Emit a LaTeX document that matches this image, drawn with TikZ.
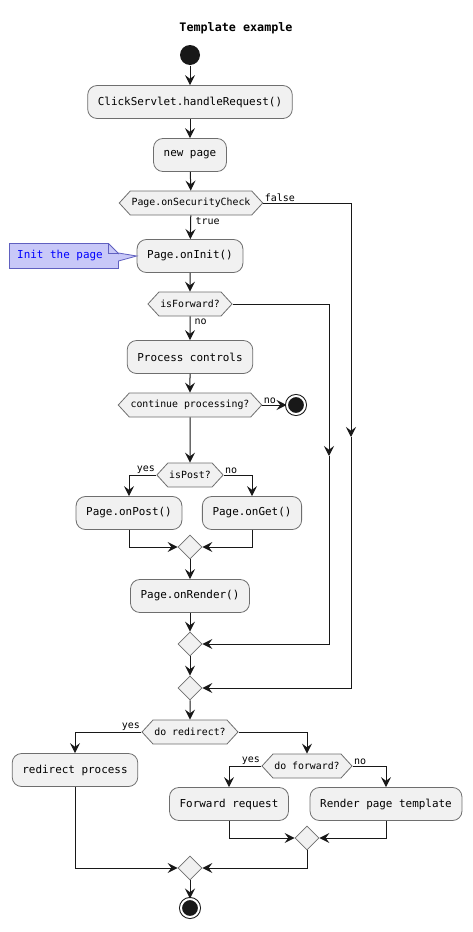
\documentclass[tikz,border=0pt]{standalone}
\usepackage{fontspec}
\usetikzlibrary{arrows.meta,shapes.geometric,shapes.symbols,calc}
\newfontfamily\umlfont{DejaVu Sans Mono}

\definecolor{umlline}{RGB}{24,24,24}
\definecolor{umlborder}{RGB}{110,110,110}
\definecolor{umlfill}{RGB}{241,241,241}
\definecolor{notefill}{RGB}{200,200,248}
\definecolor{noteborder}{RGB}{96,96,192}
\definecolor{notetext}{RGB}{0,0,255}

\tikzset{every picture/.style={line width=0.75pt}}
\tikzset{
  actbox/.style={rectangle, rounded corners=7pt, draw=umlborder, line width=0.6pt, fill=umlfill,
    minimum height=24.75pt, inner xsep=7.6pt, inner ysep=0pt, font=\umlfont\fontsize{8.2}{10}\selectfont},
  choice/.style={signal, signal to=west and east, signal pointer angle=95, draw=umlborder, line width=0.6pt,
    fill=umlfill, minimum height=18pt, inner xsep=1pt, inner ysep=0pt, font=\umlfont\fontsize{7.4}{9}\selectfont},
  merge/.style={diamond, draw=umlborder, line width=0.6pt, fill=umlfill, minimum size=18pt, inner sep=0pt},
  startnode/.style={circle, fill=umlline, minimum size=15pt, inner sep=0pt},
  endnode/.style={circle, draw=umlline, fill=umlline, line width=0.75pt, minimum size=13.5pt, inner sep=0pt,
    double=white, double distance=1.5pt},
  flow/.style={draw=umlline, -{Stealth[length=7.5pt,width=7.5pt,inset=2.8pt]}},
  guard/.style={inner sep=0.75pt, font=\umlfont\fontsize{7.5}{9}\selectfont},
}

\begin{document}
\begin{tikzpicture}[x=0.75pt,y=0.75pt,yscale=-1,xscale=1]
\path[use as bounding box] (0,0) rectangle (473,932);

% Title
\draw (236,28) node [font=\umlfont\bfseries\fontsize{8.8}{10}\selectfont] (title) {Template example};

%Shape: Start
\node [startnode] (start) at (190,55) {};
%Shape: Actions
\node [actbox] (handle) at (190,102) {ClickServlet.handleRequest()};
\node [actbox] (newpage) at (190,155) {new page};
\node [choice] (secchk) at (191,203) {Page.onSecurityCheck};
\node [actbox] (init) at (190,256) {Page.onInit()};
\node [choice] (isfwd) at (190,304) {isForward?};
\node [actbox] (proc) at (190,357) {Process controls};
\node [choice] (cont) at (190,405) {continue processing?};
\node [endnode] (stopA) at (296,405) {};
\node [choice] (ispost) at (190,475) {isPost?};
\node [actbox] (post) at (129,513) {Page.onPost()};
\node [actbox] (get) at (252,513) {Page.onGet()};
\node [merge] (mergeA) at (190,547) {};
\node [actbox] (render) at (190,596) {Page.onRender()};
\node [merge] (mergeB) at (190,644) {};
\node [merge] (mergeC) at (190,688) {};
\node [choice] (redir) at (190,732) {do redirect?};
\node [actbox] (redproc) at (75,770) {redirect process};
\node [choice] (dofwd) at (307,766) {do forward?};
\node [actbox] (fwdreq) at (229,804) {Forward request};
\node [actbox] (rendtpl) at (386,804) {Render page template};
\node [merge] (mergeD) at (307,838) {};
\node [merge] (mergeE) at (190,868) {};
\node [endnode] (stopB) at (190,908) {};

%Shape: Note
\node [inner sep=0pt, minimum width=81pt, minimum height=18pt] (note) at (64,256) {};
\draw [draw=noteborder, fill=notefill, line width=0.6pt] (note.north west) -- ($(note.north east)+(-10,0)$)
  -- ($(note.north east)+(0,10)$) -- ($(note.east)+(0,-3)$) -- (init.west) -- ($(note.east)+(0,5)$)
  -- (note.south east) -- (note.south west) -- cycle;
\draw [draw=noteborder, line width=0.6pt] ($(note.north east)+(-10,0)$) -- ($(note.north east)+(-10,10)$) -- ($(note.north east)+(0,10)$);
\node [inner sep=0pt, text=notetext, font=\umlfont\fontsize{8.2}{10}\selectfont] (notetxt) at ($(note)+(-4,0)$) {Init the page};

%Coordinates for mid-line arrows
\coordinate (outR) at (351,437);
\coordinate (outF) at (329,456);

%Straight Lines
\draw [flow] (start) -- (handle);
\draw [flow] (handle) -- (newpage);
\draw [flow] (newpage) -- (secchk);
\draw [flow] (secchk) -- (init);
\draw [flow] (secchk.east) -| (outR);
\draw [flow] (outR) |- (mergeC.east);
\draw [flow] (init) -- (isfwd);
\draw [flow] (isfwd) -- (proc);
\draw [flow] (isfwd.east) -| (outF);
\draw [flow] (outF) |- (mergeB.east);
\draw [flow] (proc) -- (cont);
\draw [flow] (cont.east) -- (stopA);
\draw [flow] (cont) -- (ispost);
\draw [flow] (ispost.west) -| (post.north);
\draw [flow] (ispost.east) -| (get.north);
\draw [flow] (post.south) |- (mergeA.west);
\draw [flow] (get.south) |- (mergeA.east);
\draw [flow] (mergeA) -- (render);
\draw [flow] (render) -- (mergeB);
\draw [flow] (mergeB) -- (mergeC);
\draw [flow] (mergeC) -- (redir);
\draw [flow] (redir.west) -| (redproc.north);
\draw [flow] (redir.east) -| (dofwd.north);
\draw [flow] (dofwd.west) -| (fwdreq.north);
\draw [flow] (dofwd.east) -| (rendtpl.north);
\draw [flow] (fwdreq.south) |- (mergeD.west);
\draw [flow] (rendtpl.south) |- (mergeD.east);
\draw [flow] (redproc.south) |- (mergeE.west);
\draw [flow] (mergeD.south) |- (mergeE.east);
\draw [flow] (mergeE) -- (stopB);

% Text Node
\node [guard, anchor=south west] at (secchk.east) {false};
\node [guard, anchor=north west] at ($(secchk.south)+(3,1)$) {true};
\node [guard, anchor=north west] at ($(isfwd.south)+(3,1)$) {no};
\node [guard, anchor=south west] at (cont.east) {no};
\node [guard, anchor=south east] at (ispost.west) {yes};
\node [guard, anchor=south west] at (ispost.east) {no};
\node [guard, anchor=south east] at (redir.west) {yes};
\node [guard, anchor=south east] at (dofwd.west) {yes};
\node [guard, anchor=south west] at (dofwd.east) {no};

\end{tikzpicture}
\end{document}
